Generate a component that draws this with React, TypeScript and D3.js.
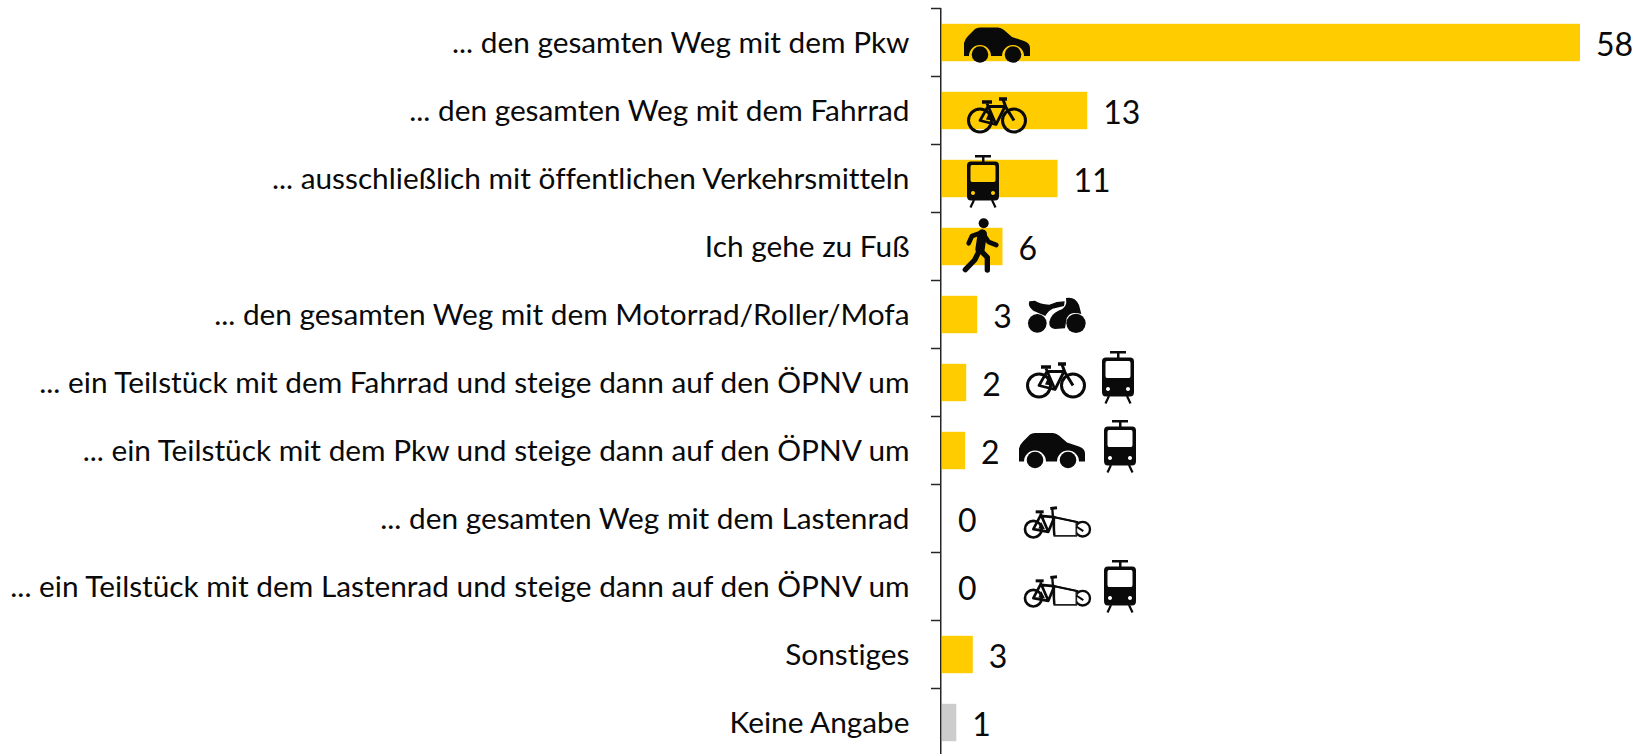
import React from "react";
import * as d3 from "d3";

const categories = [
  "... den gesamten Weg mit dem Pkw",
  "... den gesamten Weg mit dem Fahrrad",
  "... ausschließlich mit öffentlichen Verkehrsmitteln",
  "Ich gehe zu Fuß",
  "... den gesamten Weg mit dem Motorrad/Roller/Mofa",
  "... ein Teilstück mit dem Fahrrad und steige dann auf den ÖPNV um",
  "... ein Teilstück mit dem Pkw und steige dann auf den ÖPNV um",
  "... den gesamten Weg mit dem Lastenrad",
  "... ein Teilstück mit dem Lastenrad und steige dann auf den ÖPNV um",
  "Sonstiges",
  "Keine Angabe",
];
const barValues = [58, 13.2, 10.5, 5.5, 3.2, 2.2, 2.1, 0, 0, 2.8, 1.3];
const barColors = ["#FFCC00", "#FFCC00", "#FFCC00", "#FFCC00", "#FFCC00", "#FFCC00", "#FFCC00", "#FFCC00", "#FFCC00", "#FFCC00", "#CCCCCC"];
const rowIcons = [["car"], ["bike"], ["tram"], ["walker"], ["moto"], ["bike", "tram"], ["car", "tram"], ["cargo"], ["cargo", "tram"], [], []];

const W = 1640, H = 754;
const FONT = "Lato, 'Open Sans', sans-serif";
const INK = "#0a0a0a";

// Where each icon glyph's origin sits, per row, relative to the row's band centre.
const iconPlacement: number[][][] = [
  [[964, -15.5]], [[967, -13]], [[967, -23.5]], [[950, -36.5]], [[1020, -24.5]],
  [[1026, -20], [1102, -31.5]], [[1019, -18], [1104, -30.5]],
  [[1015, -18]], [[1015, -17], [1104, -26.5]], [], [],
];

function Car() {
  return (
    <g fill={INK}>
      <path d="M0,29 L0,16 Q1,12 4,9 L11,2 Q13,0.5 16,0.5 L34,0.5 Q37,0.5 40,3 L48,10 L60,14 Q66,16 66,21 L66,29 L60,29 A11,11 0 0 0 38,29 L27,29 A11,11 0 0 0 5,29 Z" />
      <circle cx={16} cy={27.5} r={8.3} />
      <circle cx={49} cy={27.5} r={8.3} />
    </g>
  );
}

function Bike() {
  return (
    <g fill="none" stroke={INK} strokeWidth={3}>
      <circle cx={13} cy={23} r={11.5} />
      <circle cx={47} cy={23} r={11.5} />
      <path d="M20,6 L29,27 L13,23 L21,9 L38,9 L29,27" strokeWidth={2.8} strokeLinejoin="round" />
      <path d="M36,2 L39,10 L47,23" />
      <path d="M15,4.5 L25,4.5" strokeWidth={3.5} />
      <path d="M32,1.5 L40,1.5" strokeWidth={3.5} />
      <path d="M22,15 L26,23 L19,22 Z" fill={INK} stroke="none" />
    </g>
  );
}

function Tram() {
  return (
    <g fill={INK}>
      <rect x={8} y={0} width={16} height={2.5} />
      <rect x={15} y={2} width={2.5} height={6} />
      <path
        fillRule="evenodd"
        d="M4,6.5 L28,6.5 Q32,6.5 32,10.5 L32,41 Q32,45.5 28,45.5 L4,45.5 Q0,45.5 0,41 L0,10.5 Q0,6.5 4,6.5 Z
           M5,10 Q3.5,10 3.5,12 L3.5,25 Q3.5,27 5,27 L27,27 Q28.5,27 28.5,25 L28.5,12 Q28.5,10 27,10 Z
           M6,36 a2,2 0 1 0 0.01,0 Z M26,36 a2,2 0 1 0 0.01,0 Z"
      />
      <path d="M7,45 L3.5,52.5 M25,45 L28.5,52.5" stroke={INK} strokeWidth={2.2} fill="none" />
    </g>
  );
}

function Walker() {
  return (
    <g transform="scale(0.3333)" fill="none" stroke={INK} strokeLinecap="round" strokeLinejoin="round">
      <circle cx={101} cy={40} r={15} fill={INK} stroke="none" />
      <path d="M97,72 L90,118" strokeWidth={28} />
      <path d="M90,70 L66,78 L56,100" strokeWidth={14} />
      <path d="M100,72 L116,96 L139,105" strokeWidth={14} />
      <path d="M88,122 L74,150 L46,179" strokeWidth={16} />
      <path d="M92,122 L112,142 L112,180" strokeWidth={16} />
    </g>
  );
}

function Moto() {
  return (
    <g transform="scale(0.3333)" fill={INK}>
      <circle cx={52} cy={100} r={28} />
      <circle cx={168} cy={100} r={29} />
      <path d="M28,34 Q22,50 40,62 L76,78 Q85,62 98,56 L132,48 L134,34 Q110,34 88,44 Q60,42 45,32 Z" />
      <path d="M138,24 Q165,18 177,45 L184,72 Q150,62 140,85 L135,115 L105,117 Q86,114 88,95 Q93,72 115,62 Q144,55 138,24 Z" />
    </g>
  );
}

function Cargo() {
  return (
    <g transform="scale(0.3333)" fill="none" stroke={INK}>
      <circle cx={55} cy={86} r={25} strokeWidth={8} />
      <circle cx={203} cy={86} r={22} strokeWidth={7} />
      <path d="M118,50 L184,64 L184,106 L118,106 Z" fill="#fff" stroke="#222" strokeWidth={5} />
      <path d="M118,50 L190,65" strokeWidth={6} />
      <path d="M76,38 L100,94 L55,86 L76,46 L118,50 L100,94" strokeWidth={8} strokeLinejoin="round" />
      <path d="M112,26 L118,105" strokeWidth={7} />
      <path d="M62,34 L86,34" strokeWidth={9} />
      <path d="M106,24 L126,22" strokeWidth={9} />
      <path d="M184,78 L205,92" strokeWidth={6} />
      <path d="M79,65 L90,86 L70,84 Z" fill={INK} stroke="none" />
    </g>
  );
}

const ICONS: Record<string, () => React.ReactElement> = { car: Car, bike: Bike, tram: Tram, walker: Walker, moto: Moto, cargo: Cargo };

export default function App() {
  const x = d3.scaleLinear().domain([0, 58]).range([942, 1580]);
  const y = d3.scaleBand<string>().domain(categories).range([8.5, 756.5]).paddingInner(0.45).paddingOuter(0.225);
  const step = y.step();
  const fmt = d3.format(".0f");
  return (
    <svg width={W} height={H} viewBox={`0 0 ${W} ${H}`} style={{ position: "absolute", left: 0, top: 0, display: "block", background: "#fff", fontVariantLigatures: "none" }}>
      {categories.map((c, i) => (
        <rect key={c} x={x(0)} y={y(c)} width={x(barValues[i]) - x(0)} height={y.bandwidth()} fill={barColors[i]} />
      ))}
      <line x1={940.75} x2={940.75} y1={8} y2={H} stroke="#262626" strokeWidth={1.5} />
      {categories.map((c, i) => (
        <line key={c} x1={931} x2={941} y1={8.5 + i * step} y2={8.5 + i * step} stroke="#262626" strokeWidth={1.5} />
      ))}
      {categories.map((c, i) => {
        const cy = y(c)! + y.bandwidth() / 2;
        return (
          <g key={c}>
            <text x={909.5} y={cy + 10.5} textAnchor="end" fontFamily={FONT} fontSize={29.8} fill={INK}>{c}</text>
            <text x={x(barValues[i]) + 16} y={cy + 13.5} fontFamily={FONT} fontSize={32} fill={INK}>{fmt(barValues[i])}</text>
            {rowIcons[i].map((name, k) => {
              const Icon = ICONS[name];
              const [ix, dy] = iconPlacement[i][k];
              return (
                <g key={k} transform={`translate(${ix},${cy + dy})`}>
                  <Icon />
                </g>
              );
            })}
          </g>
        );
      })}
    </svg>
  );
}
